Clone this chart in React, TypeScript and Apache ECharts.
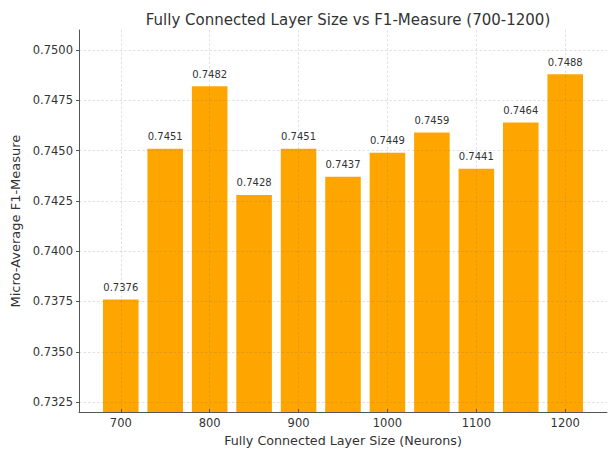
import React, { useEffect, useRef } from "react";
import * as echarts from "echarts";

const sizes = [700, 750, 800, 850, 900, 950, 1000, 1050, 1100, 1150, 1200];
const f1Scores = [0.7376, 0.7451, 0.7482, 0.7428, 0.7451, 0.7437, 0.7449, 0.7459, 0.7441, 0.7464, 0.7488];
const xTicks = [700, 800, 900, 1000, 1100, 1200];
const yTicks = [0.7325, 0.735, 0.7375, 0.74, 0.7425, 0.745, 0.7475, 0.75];

const W = 614;
const H = 452;
const GRID = { left: 79, right: 7, top: 30, bottom: 36 };
const X_MIN = 653;
const X_MAX = 1247;
const BAR_UNITS = 40;

export default function App() {
  const ref = useRef<HTMLDivElement>(null);
  useEffect(() => {
    document.body.style.margin = "0";
    if (!ref.current) return;
    const chart = echarts.init(ref.current, null, { renderer: "svg" });
    const gridW = W - GRID.left - GRID.right;
    const barW = (BAR_UNITS / (X_MAX - X_MIN)) * gridW;
    const font = "DejaVu Sans";
    const grid = { color: "rgba(120,120,120,0.28)", type: [2.5, 2] as any, width: 0.8 };
    chart.setOption({
      animation: false,
      title: {
        text: "Fully Connected Layer Size vs F1-Measure (700-1200)",
        left: GRID.left + gridW / 2,
        textAlign: "center",
        top: 7,
        textStyle: { fontFamily: font, fontSize: 15, fontWeight: "normal", color: "#333" },
      },
      grid: { ...GRID, containLabel: false },
      xAxis: {
        type: "value",
        min: X_MIN,
        max: X_MAX,
        z: 3,
        name: "Fully Connected Layer Size (Neurons)",
        nameLocation: "middle",
        nameGap: 18,
        nameTextStyle: { fontFamily: font, fontSize: 12.7, color: "#333" },
        axisLine: { show: true, lineStyle: { color: "#555", width: 1 } },
        axisTick: { show: true, inside: true, length: 3, customValues: xTicks, lineStyle: { color: "#555" } },
        axisLabel: {
          customValues: xTicks,
          fontFamily: font,
          fontSize: 11.5,
          color: "#333",
          margin: 5,
          formatter: (v: number) => String(v),
        },
        splitLine: { show: true, lineStyle: grid },
      },
      yAxis: {
        type: "value",
        min: 0.732,
        max: 0.751,
        z: 3,
        name: "Micro-Average F1-Measure",
        nameLocation: "middle",
        nameGap: 53,
        nameTextStyle: { fontFamily: font, fontSize: 13, color: "#333" },
        axisLine: { show: true, lineStyle: { color: "#555", width: 1 } },
        axisTick: { show: true, inside: false, length: 3, customValues: yTicks, lineStyle: { color: "#555" } },
        axisLabel: {
          customValues: yTicks,
          fontFamily: font,
          fontSize: 11.5,
          color: "#333",
          margin: 6,
          formatter: (v: number) => v.toFixed(4),
        },
        splitLine: { show: true, lineStyle: grid },
      },
      series: [
        {
          type: "bar",
          data: sizes.map((s, i) => [s, f1Scores[i]]),
          barWidth: barW,
          itemStyle: { color: "#FFA500" },
          label: {
            show: true,
            position: "top",
            distance: 7,
            fontFamily: font,
            fontSize: 10,
            color: "#333",
            formatter: (p: any) => p.value[1].toFixed(4),
          },
        },
      ],
    });
    return () => chart.dispose();
  }, []);
  return <div ref={ref} style={{ width: W, height: H }} />;
}
